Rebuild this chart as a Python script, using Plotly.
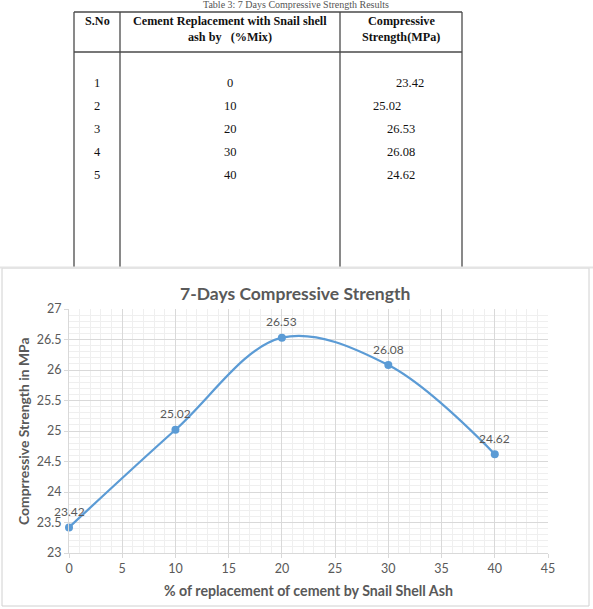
import plotly.graph_objects as go

# ---- data ----
s_no = [1, 2, 3, 4, 5]
replacement = [0, 10, 20, 30, 40]
strength = [23.42, 25.02, 26.53, 26.08, 24.62]
strength_labels = ["23.42", "25.02", "26.53", "26.08", "24.62"]

W, H = 593, 609
def px(x):
    return x / W
def py(y):
    return 1 - y / H

fig = go.Figure()
fig.add_trace(go.Scatter(
    x=replacement, y=strength,
    mode="lines+markers",
    line=dict(color="#5B9BD5", width=2.25, shape="spline", smoothing=1.0),
    marker=dict(color="#5B9BD5", size=8),
    cliponaxis=False, showlegend=False, hoverinfo="x+y",
))

shapes = []
annotations = []

# data labels
for xv, yv, lab in zip(replacement, strength, strength_labels):
    annotations.append(dict(xref="x", yref="y", x=xv, y=yv, text=lab,
                            showarrow=False, yshift=16, xanchor="center", yanchor="middle",
                            font=dict(family="Lato", size=12, color="#595959")))

# ---- chart frame ----
shapes.append(dict(type="rect", xref="paper", yref="paper",
                   x0=px(2), x1=px(589), y0=py(606), y1=py(268),
                   line=dict(color="#d0d0d0", width=1), layer="below"))

# ---- table ----
tcol = "#4a4a4a"
for x in [74, 120, 340, 462]:
    shapes.append(dict(type="line", xref="paper", yref="paper",
                       x0=px(x), x1=px(x), y0=py(12), y1=py(267),
                       line=dict(color=tcol, width=1.3)))
for y in [12, 52]:
    shapes.append(dict(type="line", xref="paper", yref="paper",
                       x0=px(74), x1=px(462), y0=py(y), y1=py(y),
                       line=dict(color=tcol, width=1.3)))
shapes.append(dict(type="line", xref="paper", yref="paper",
                   x0=0, x1=1, y0=py(267.5), y1=py(267.5),
                   line=dict(color="#e4e4e4", width=2)))

serif = "Liberation Serif"
def txt(x, y, s, size=12.5, bold=False, family=serif, color="#111111"):
    annotations.append(dict(xref="paper", yref="paper", x=px(x), y=py(y),
                            text=("<b>%s</b>" % s) if bold else s,
                            showarrow=False, xanchor="center", yanchor="middle",
                            font=dict(family=family, size=size, color=color)))

txt(296, 5, "Table 3: 7 Days Compressive Strength Results", size=10, color="#555555")
txt(97, 21, "S.No", size=12.2, bold=True)
txt(230, 21, "Cement Replacement with Snail shell", size=12.2, bold=True)
txt(230, 37, "ash by   (%Mix)", size=12.2, bold=True)
txt(401, 21, "Compressive", size=12.2, bold=True)
txt(401, 37, "Strength(MPa)", size=12.2, bold=True)

row_y = [83, 106, 129, 152, 175]
col3_x = [410, 387, 401, 401, 401]
for i in range(len(s_no)):
    txt(97, row_y[i], str(s_no[i]))
    txt(230, row_y[i], str(replacement[i]))
    txt(col3_x[i], row_y[i], strength_labels[i])

# ---- chart title & axis titles ----
txt(295, 293, "7-Days Compressive Strength", size=17.5, bold=True, family="Lato", color="#595959")
txt(308, 590, "% of replacement of cement by Snail Shell Ash", size=14.2, bold=True, family="Lato", color="#595959")
annotations.append(dict(xref="paper", yref="paper", x=px(23), y=py(431),
                        text="<b>Comprressive Strength in MPa</b>", showarrow=False,
                        textangle=-90, xanchor="center", yanchor="middle",
                        font=dict(family="Lato", size=13.9, color="#595959")))

fig.update_layout(
    width=W, height=H,
    margin=dict(l=0, r=0, t=0, b=0, autoexpand=False),
    paper_bgcolor="white", plot_bgcolor="white",
    shapes=shapes, annotations=annotations,
    xaxis=dict(domain=[px(69), px(548)], range=[0, 45], dtick=5, tick0=0,
               automargin=False,
               showgrid=True, gridcolor="#d9d9d9", gridwidth=1,
               minor=dict(dtick=1, showgrid=True, gridcolor="#efefef", gridwidth=1),
               zeroline=False, showline=True, linecolor="#d9d9d9",
               ticks="outside", ticklen=4, tickcolor="#d9d9d9",
               tickfont=dict(family="Lato", size=12.5, color="#595959"),
               fixedrange=True),
    yaxis=dict(domain=[py(553), py(309)], range=[23, 27], dtick=0.5, tick0=23,
               automargin=False,
               showgrid=True, gridcolor="#d9d9d9", gridwidth=1,
               minor=dict(dtick=0.1, showgrid=True, gridcolor="#efefef", gridwidth=1),
               zeroline=False, showline=True, linecolor="#d9d9d9",
               ticks="outside", ticklen=4, tickcolor="#d9d9d9",
               tickfont=dict(family="Lato", size=12.5, color="#595959"),
               fixedrange=True),
)

fig.write_html("out.html")
